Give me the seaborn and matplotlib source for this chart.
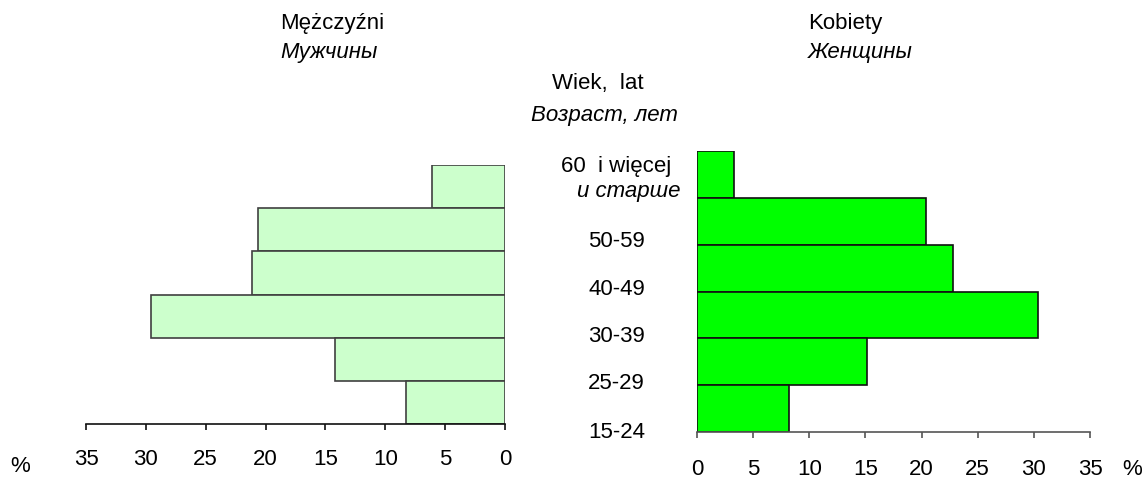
import numpy as np
import pandas as pd
import matplotlib
matplotlib.use("Agg")
import matplotlib.pyplot as plt
import seaborn as sns

# age groups, top to bottom
ages = ["60+", "50-59", "40-49", "30-39", "25-29", "15-24"]
age_labels = ["60  i więcej", "50-59", "40-49", "30-39", "25-29", "15-24"]
men = [6.1, 20.6, 21.1, 29.6, 14.2, 8.3]
women = [3.3, 20.35, 22.8, 30.4, 15.1, 8.15]
xticks = [0, 5, 10, 15, 20, 25, 30, 35]

sns.set_style("white")
plt.rcParams['font.family'] = ['Liberation Sans', 'DejaVu Sans']
plt.rcParams['font.size'] = 16
plt.rcParams['text.color'] = 'black'
plt.rcParams['xtick.color'] = 'black'
plt.rcParams['ytick.color'] = 'black'

df = pd.DataFrame({"age": ages, "men": men, "women": women})

fig = plt.figure(figsize=(11.46, 4.81), dpi=100)
W, H = 1146, 481
ax_m = fig.add_axes([86 / W, 1 - 425 / H, 419 / W, 259 / H])
ax_w = fig.add_axes([697 / W, 1 - 433 / H, 393 / W, 281 / H])

sns.barplot(data=df, x="men", y="age", orient="h", ax=ax_m, color="#ccffcc",
            saturation=1, width=1.0, edgecolor="#404040", linewidth=1.2)
sns.barplot(data=df, x="women", y="age", orient="h", ax=ax_w, color="#00ff00",
            saturation=1, width=1.0, edgecolor="#111111", linewidth=1.2)

for ax, spine_col in [(ax_m, "#111111"), (ax_w, "#555555")]:
    for s in ["left", "right", "top"]:
        ax.spines[s].set_visible(False)
    ax.spines["bottom"].set_color(spine_col)
    ax.spines["bottom"].set_linewidth(1.2)
    ax.set_ylim(5.5, -0.5)
    ax.set_xticks(xticks)
    ax.set_xlabel("")
    ax.set_ylabel("")
    ax.tick_params(axis="x", bottom=True, direction="out", length=4.5,
                   width=1.2, color=spine_col, labelsize=16, labelcolor="black")

ax_m.set_xlim(35, 0)
ax_m.set_yticks([])
ax_m.tick_params(axis="x", pad=13)

ax_w.set_xlim(0, 35)
ax_w.tick_params(axis="x", pad=14)
ytick_pos = [-0.18, 1.42, 2.44, 3.44, 4.45, 5.5]
ax_w.set_yticks(ytick_pos)
ax_w.set_yticklabels(age_labels)
ax_w.tick_params(axis="y", left=False, length=0, pad=58, labelsize=16, labelcolor="black")
plt.setp(ax_w.get_yticklabels(), ha="center", va="center")
ax_w.text(-0.173, 0.35, "и старше", transform=ax_w.get_yaxis_transform(),
          ha="center", va="center", style="italic", fontsize=16)

# titles
fig.text(280 / W, 1 - 24 / H, "Mężczyźni", ha="left", va="center", fontsize=16)
fig.text(280 / W, 1 - 53 / H, "Мужчины", ha="left", va="center", fontsize=16, style="italic")
fig.text(808 / W, 1 - 24 / H, "Kobiety", ha="left", va="center", fontsize=16)
fig.text(808 / W, 1 - 53 / H, "Женщины", ha="left", va="center", fontsize=16, style="italic")
fig.text(598 / W, 1 - 84 / H, "Wiek,  lat", ha="center", va="center", fontsize=16)
fig.text(604 / W, 1 - 115 / H, "Возраст, лет", ha="center", va="center", fontsize=16, style="italic")

fig.text(20 / W, 1 - 467 / H, "%", ha="center", va="center", fontsize=16)
fig.text(1132 / W, 1 - 470 / H, "%", ha="center", va="center", fontsize=16)

fig.savefig("out.png", dpi=100, facecolor="white")
